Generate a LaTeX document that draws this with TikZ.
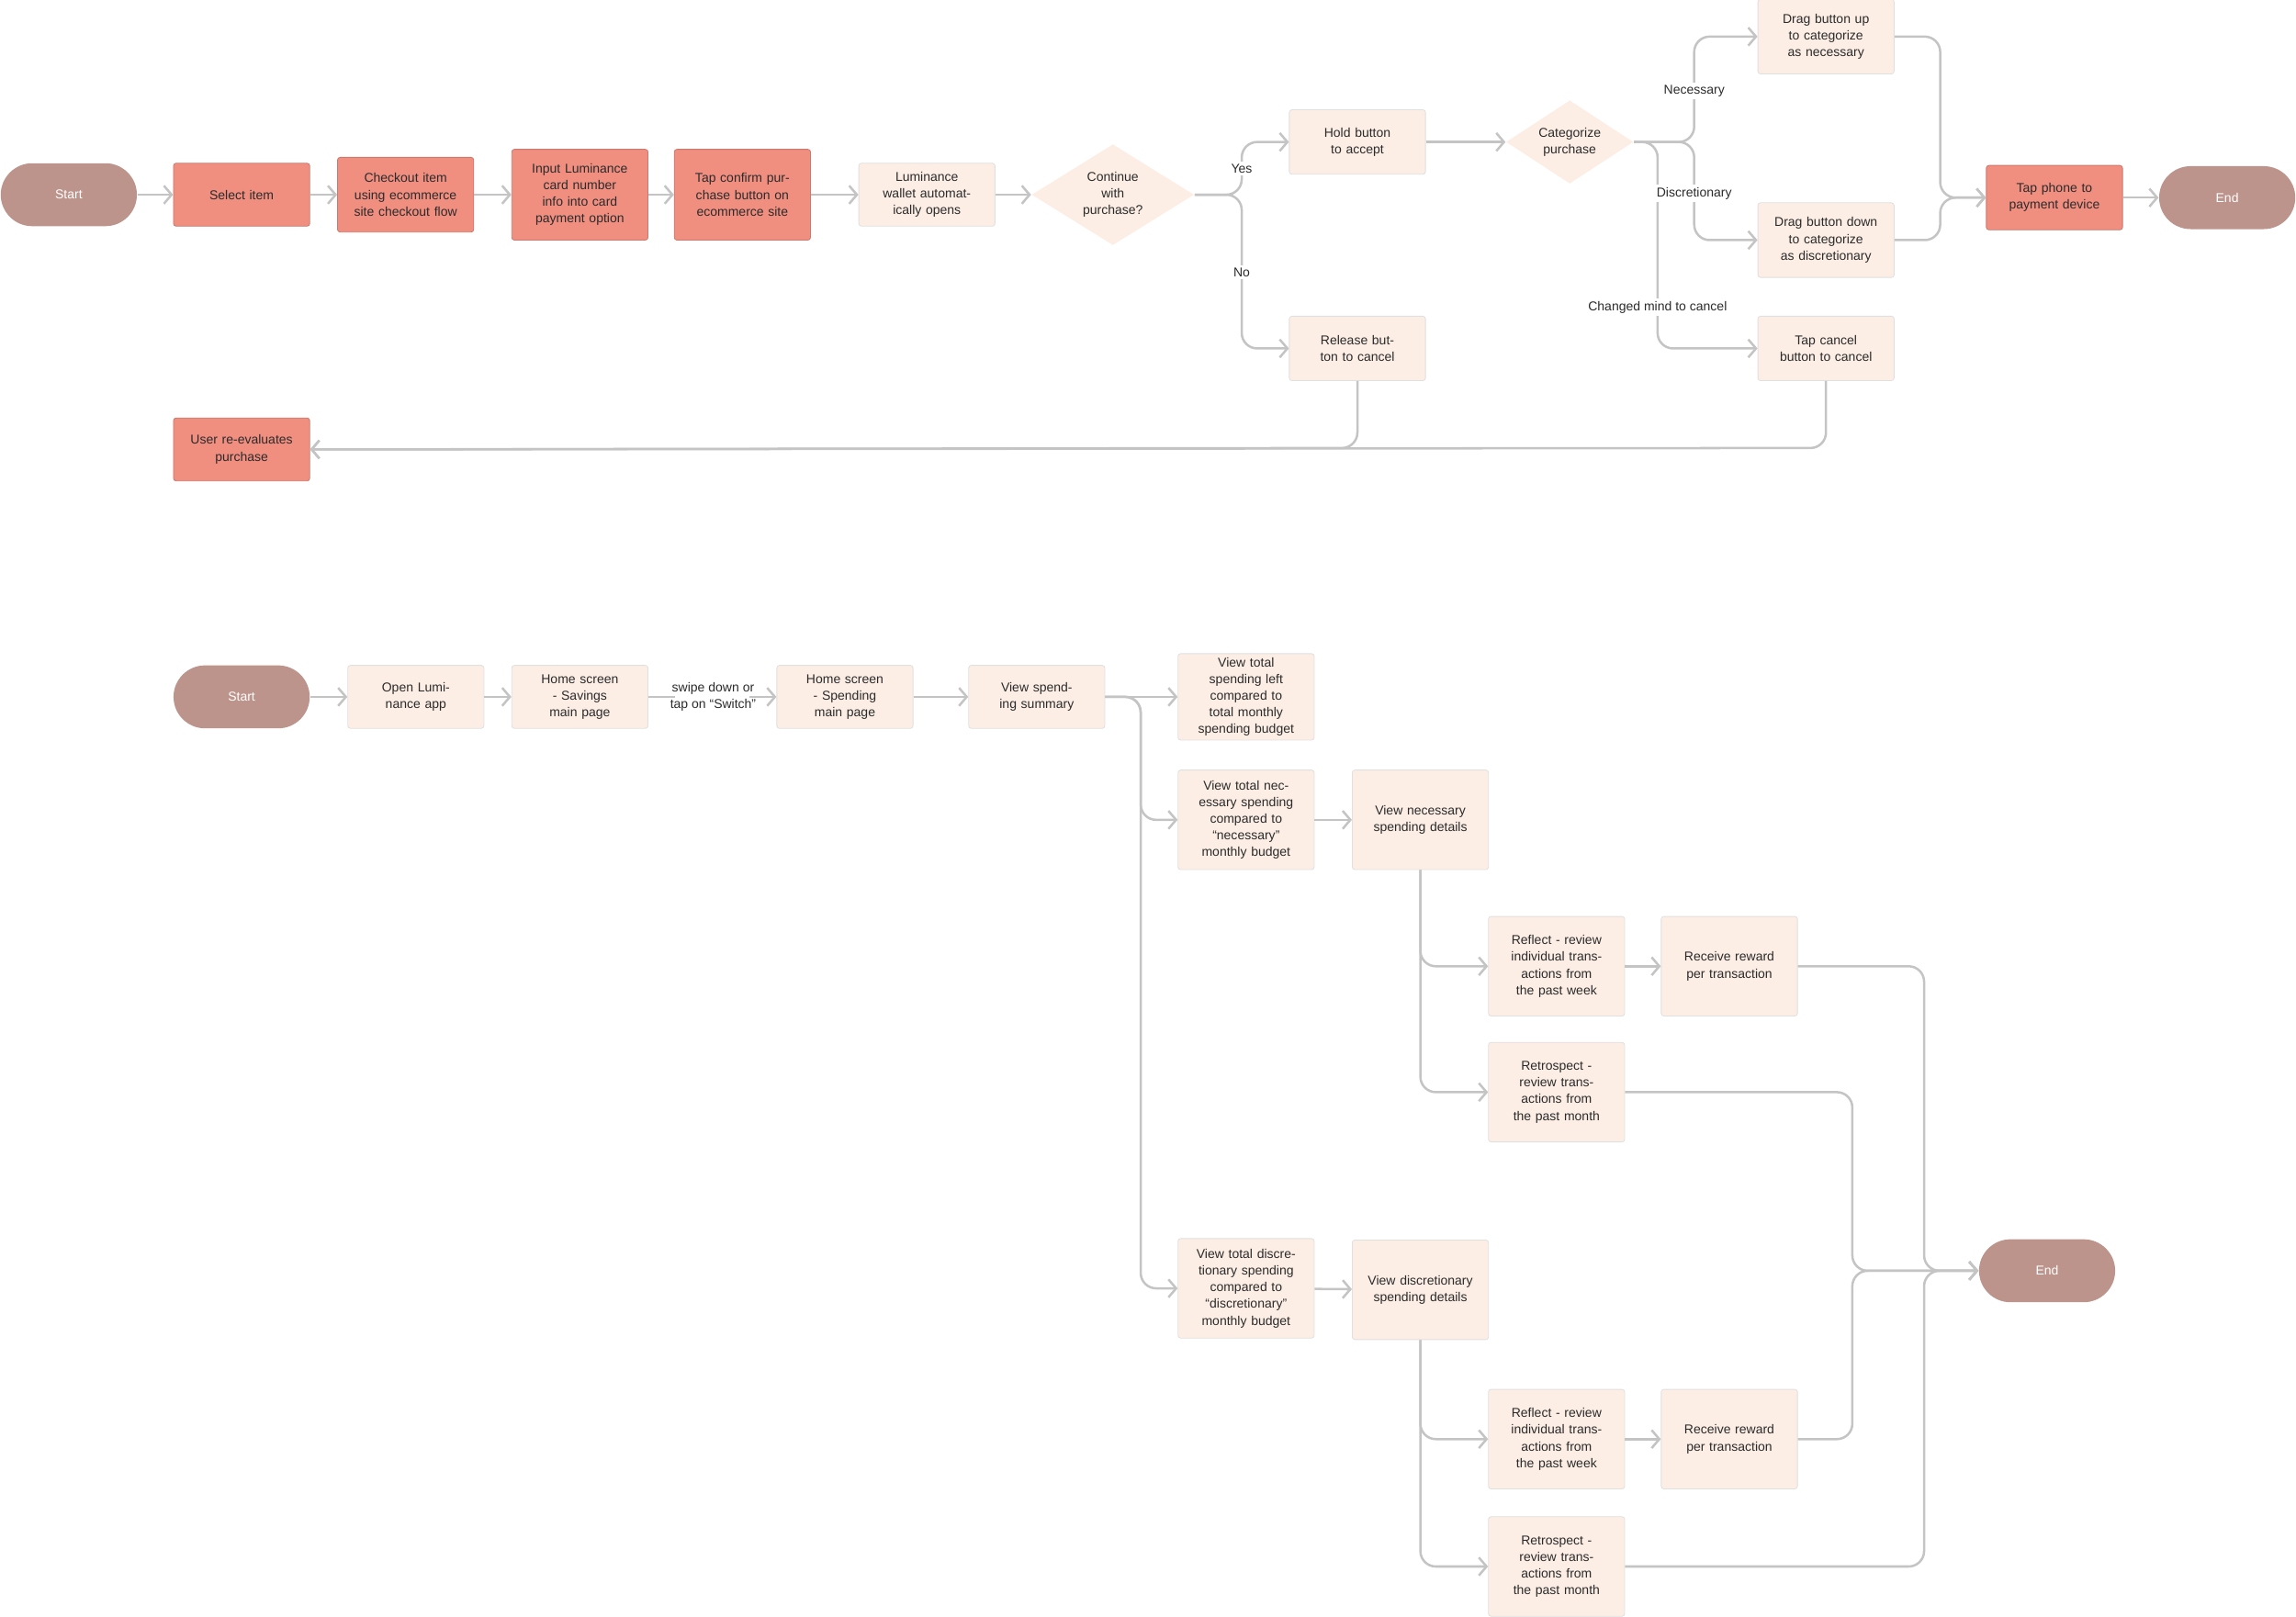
\documentclass[tikz,border=0pt]{standalone}
\usepackage{fontspec}
\setmainfont{Liberation Sans}
\usetikzlibrary{shapes.geometric,arrows.meta}
\definecolor{salmon}{HTML}{F08E80}
\definecolor{light}{HTML}{FCEEE5}
\definecolor{dark}{HTML}{BC948C}
\definecolor{ln}{HTML}{C4C4C4}
\definecolor{txt}{HTML}{2B2B2B}
\begin{document}
\begin{tikzpicture}[x=0.02cm,y=-0.02cm,
 base/.style={font=\fontsize{5}{6.5}\selectfont,text=txt,align=center,inner sep=1pt,text width=1.45cm},
 box/.style={base,rectangle,rounded corners=1pt,minimum width=1.86cm,draw=black!12,line width=0.3pt},
 lt/.style={box,fill=light},
 sa/.style={box,fill=salmon,draw=salmon!85!black},
 term/.style={base,rectangle,rounded corners=0.43cm,fill=dark,text=white,minimum width=1.86cm,minimum height=0.86cm},
 dia/.style={base,diamond,fill=light,aspect=1.6,inner sep=0pt,text width=1cm},
 lab/.style={font=\fontsize{5}{6.5}\selectfont,text=txt,fill=white,inner sep=1pt,align=center},
 ar/.style={draw=ln,line width=0.9pt,rounded corners=6pt,-{Straight Barb[length=3pt,width=7pt]}},
 pl/.style={draw=ln,line width=0.9pt,rounded corners=6pt}]
\useasboundingbox (0,0) rectangle (1568,1104);
% top flow
\node[term] (s1) at (47,133) {Start};
\node[sa,minimum height=0.86cm] (a1) at (165,133) {Select item};
\node[sa,minimum height=1.02cm] (a2) at (277,133) {Checkout item using ecommerce site checkout flow};
\node[sa,minimum height=1.24cm] (a3) at (396,133) {Input Luminance card number info into card payment option};
\node[sa,minimum height=1.24cm] (a4) at (507,133) {Tap confirm purchase button on ecommerce site};
\node[lt,minimum height=0.86cm] (a5) at (633,133) {Luminance wallet automatically opens};
\node[dia,minimum width=2.22cm,minimum height=1.38cm] (d1) at (760,133) {Continue with purchase?};
\node[lt,minimum height=0.88cm] (h) at (927,97) {Hold button to accept};
\node[lt,minimum height=0.88cm] (r) at (927,238) {Release button to cancel};
\node[dia,minimum width=1.74cm,minimum height=1.14cm] (d2) at (1072,97) {Categorize purchase};
\node[lt,minimum height=1.02cm] (du) at (1247,25) {Drag button up to categorize as necessary};
\node[lt,minimum height=1.02cm] (dd) at (1247,164) {Drag button down to categorize as discretionary};
\node[lt,minimum height=0.88cm] (tc) at (1247,238) {Tap cancel button to cancel};
\node[sa,minimum height=0.88cm] (tp) at (1403,135) {Tap phone to payment device};
\node[term] (e1) at (1521,135) {End};
\node[sa,minimum height=0.86cm] (ue) at (165,307) {User re-evaluates purchase};
\draw[ar] (s1) -- (a1);
\draw[ar] (a1) -- (a2);
\draw[ar] (a2) -- (a3);
\draw[ar] (a3) -- (a4);
\draw[ar] (a4) -- (a5);
\draw[ar] (a5) -- (d1);
\draw[ar] (d1.east) -- (848,133) -- (848,97) -- (h.west);
\draw[ar] (d1.east) -- (848,133) -- (848,238) -- (r.west);
\node[lab] (ly) at (848,115) {Yes};
\node[lab] (ln) at (848,186) {No};
\draw[ar] (h) -- (d2);
\draw[ar] (d2.east) -- (1157,97) -- (1157,25) -- (du.west);
\draw[ar] (d2.east) -- (1157,97) -- (1157,164) -- (dd.west);
\draw[ar] (d2.east) -- (1132,97) -- (1132,238) -- (tc.west);
\node[lab] at (1157,62) {Necessary};
\node[lab] at (1157,132) {Discretionary};
\node[lab] at (1132,210) {Changed mind to cancel};
\draw[ar] (du.east) -- (1325,25) -- (1325,135) -- (tp.west);
\draw[ar] (dd.east) -- (1325,164) -- (1325,135) -- (tp.west);
\draw[ar] (tp) -- (e1);
\draw[ar] (r.south) -- (927,306) -- (ue.east);
\draw[ar] (tc.south) -- (1247,306) -- (ue.east);
% bottom flow
\node[term] (s2) at (165,476) {Start};
\node[lt,minimum height=0.86cm] (b1) at (284,476) {Open Luminance app};
\node[lt,minimum height=0.86cm] (b2) at (396,476) {Home screen - Savings main page};
\node[lt,minimum height=0.86cm] (b3) at (577,476) {Home screen - Spending main page};
\node[lt,minimum height=0.86cm] (b4) at (708,476) {View spending summary};
\node[lt,minimum height=1.18cm] (c1) at (851,476) {View total spending left compared to total monthly spending budget};
\node[lt,minimum height=1.36cm] (c2) at (851,560) {View total necessary spending compared to ``necessary'' monthly budget};
\node[lt,minimum height=1.36cm] (n1) at (970,560) {View necessary spending details};
\node[lt,minimum height=1.36cm] (n2) at (1063,660) {Reflect - review individual transactions from the past week};
\node[lt,minimum height=1.36cm] (n3) at (1181,660) {Receive reward per transaction};
\node[lt,minimum height=1.36cm] (n4) at (1063,746) {Retrospect - review transactions from the past month};
\node[lt,minimum height=1.36cm] (c3) at (851,880) {View total discretionary spending compared to ``discretionary'' monthly budget};
\node[lt,minimum height=1.36cm] (m1) at (970,881) {View discretionary spending details};
\node[lt,minimum height=1.36cm] (m2) at (1063,983) {Reflect - review individual transactions from the past week};
\node[lt,minimum height=1.36cm] (m3) at (1181,983) {Receive reward per transaction};
\node[lt,minimum height=1.36cm] (m4) at (1063,1070) {Retrospect - review transactions from the past month};
\node[term] (e2) at (1398,868) {End};
\draw[ar] (s2) -- (b1);
\draw[ar] (b1) -- (b2);
\draw[pl] (b2) -- (461,476);
\node[lab,fill=none] (sw) at (487,476) {swipe down or\\tap on ``Switch''};
\draw[ar] (512,476) -- (b3);
\draw[ar] (b3) -- (b4);
\draw[ar] (b4) -- (c1);
\draw[ar] (b4.east) -- (779,476) -- (779,560) -- (c2.west);
\draw[ar] (b4.east) -- (779,476) -- (779,880) -- (c3.west);
\draw[ar] (c2) -- (n1);
\draw[ar] (c3) -- (m1);
\draw[ar] (n1.south) -- (970,660) -- (n2.west);
\draw[ar] (n1.south) -- (970,746) -- (n4.west);
\draw[ar] (n2) -- (n3);
\draw[ar] (m1.south) -- (970,983) -- (m2.west);
\draw[ar] (m1.south) -- (970,1070) -- (m4.west);
\draw[ar] (m2) -- (m3);
\draw[ar] (n3.east) -- (1314,660) -- (1314,868) -- (e2.west);
\draw[ar] (n4.east) -- (1265,746) -- (1265,868) -- (e2.west);
\draw[ar] (m3.east) -- (1265,983) -- (1265,868) -- (e2.west);
\draw[ar] (m4.east) -- (1314,1070) -- (1314,868) -- (e2.west);
\end{tikzpicture}
\end{document}
